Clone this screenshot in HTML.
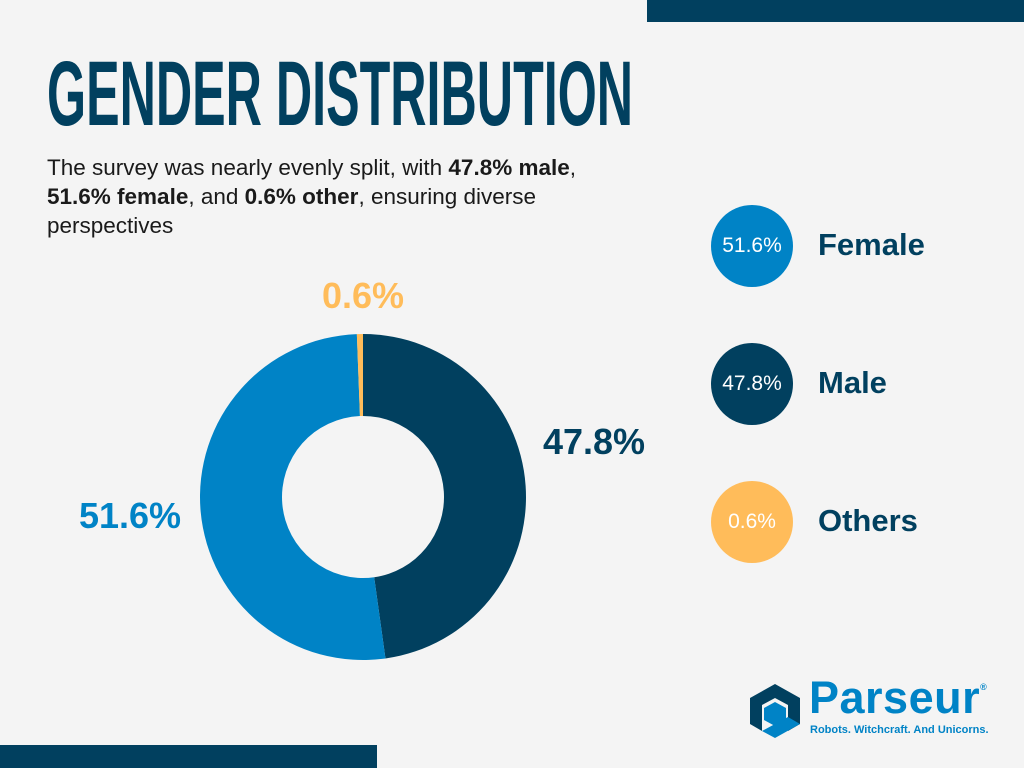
<!DOCTYPE html>
<html><head><meta charset="utf-8"><style>
body{margin:0;width:1024px;height:768px;background:#f4f4f4;position:relative;overflow:hidden;font-family:"Liberation Sans",sans-serif;}
.abs{position:absolute;}
#title{left:47px;top:48px;font-family:"Liberation Sans",sans-serif;font-weight:bold;font-size:92px;color:#01405f;white-space:nowrap;transform-origin:0 0;transform:scaleX(0.546);line-height:92px;}
#sub{left:47px;top:153px;width:565px;font-size:22.5px;line-height:29px;color:#1a1a1a;}
.leg{position:absolute;left:711px;width:82px;height:82px;border-radius:50%;color:#fff;font-size:21px;display:flex;align-items:center;justify-content:center;}
.legt{position:absolute;left:818px;font-size:31px;font-weight:bold;color:#01405f;}
</style></head><body>
<div class="abs" style="left:647px;top:0;width:377px;height:22px;background:#01405f"></div>
<div class="abs" style="left:0;top:745px;width:377px;height:23px;background:#01405f"></div>
<div id="title" class="abs">GENDER DISTRIBUTION</div>
<div id="sub" class="abs">The survey was nearly evenly split, with <b>47.8% male</b>, <b>51.6% female</b>, and <b>0.6% other</b>, ensuring diverse perspectives</div>
<svg class="abs" style="left:0;top:0" width="1024" height="768" id="chart"></svg>
<div class="leg" style="top:205px;background:#0083c6">51.6%</div>
<div class="legt" style="top:227px">Female</div>
<div class="leg" style="top:343px;background:#01405f">47.8%</div>
<div class="legt" style="top:365px">Male</div>
<div class="leg" style="top:481px;background:#ffbc5a">0.6%</div>
<div class="legt" style="top:503px">Others</div>
<div class="abs" style="left:748px;top:682px;width:270px;height:60px">
<svg width="54" height="58" style="position:absolute;left:0;top:0" viewBox="0 0 54 58">
<polygon points="27,2 52,16 52,42 40,49 40,23 27,16" fill="#01405f"/>
<polygon points="2,16 27,2 27,16 14,23 14,49 2,42" fill="#01405f"/>
<polygon points="14,49 27,56 52,42 40,35 27,42" fill="#0083c6"/>
<polygon points="27,20 38,26 38,38 27,44 16,38 16,26" fill="#0083c6"/>
</svg>
<div style="position:absolute;left:61px;top:-10px;font-size:45px;font-weight:bold;color:#0083c6;letter-spacing:0.5px">Parseur<sup style="font-size:9px;vertical-align:top;position:relative;top:10px">®</sup></div>
<div style="position:absolute;left:62px;top:42px;font-size:11px;font-weight:bold;color:#0083c6">Robots. Witchcraft. And Unicorns.</div>
</div>
<script>
const categories=["Male","Female","Others"];
const values=[47.8,51.6,0.6];
const colors=["#01405f","#0083c6","#ffbc5a"];
const labelText=["47.8%","51.6%","0.6%"];
const svg=document.getElementById('chart');
const cx=363,cy=497,R=163,r=81;
const total=values.reduce((a,b)=>a+b,0);
function pt(a,rad){return [cx+rad*Math.sin(a),cy-rad*Math.cos(a)];}
let acc=0;
const labelPos=[[594,442],[130,516],[363,296]];
values.forEach((v,i)=>{
 const a0=acc/total*2*Math.PI; acc+=v; const a1=acc/total*2*Math.PI;
 const large=(a1-a0)>Math.PI?1:0;
 const p0=pt(a0,R),p1=pt(a1,R),q1=pt(a1,r),q0=pt(a0,r);
 const p=document.createElementNS('http://www.w3.org/2000/svg','path');
 p.setAttribute('d',`M${p0}A${R},${R} 0 ${large} 1 ${p1}L${q1}A${r},${r} 0 ${large} 0 ${q0}Z`);
 p.setAttribute('fill',colors[i]);
 
 
 svg.appendChild(p);
 const t=document.createElementNS('http://www.w3.org/2000/svg','text');
 t.setAttribute('x',labelPos[i][0]);t.setAttribute('y',labelPos[i][1]+12);
 t.setAttribute('text-anchor','middle');t.setAttribute('font-size','36');t.setAttribute('font-weight','bold');
 t.setAttribute('font-family','Liberation Sans, sans-serif');t.setAttribute('fill',colors[i]);
 t.textContent=labelText[i];
 
 
 svg.appendChild(t);
});
</script>
</body></html>
